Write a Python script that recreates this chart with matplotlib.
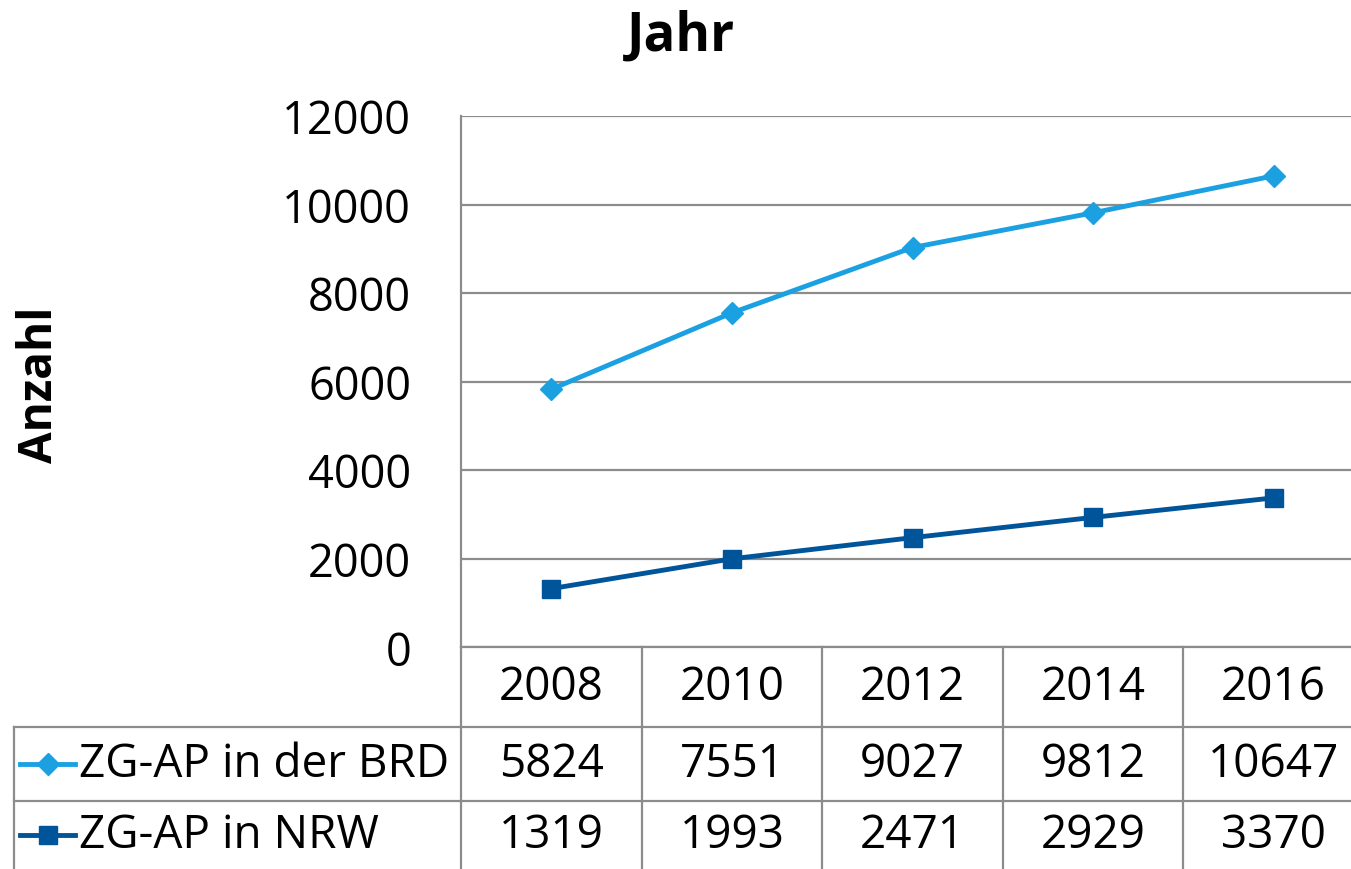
import matplotlib
import matplotlib.pyplot as plt
import matplotlib.transforms as mtransforms
from matplotlib.lines import Line2D

matplotlib.rcParams['font.family'] = ['Open Sans', 'DejaVu Sans']

# data
years = ['2008', '2010', '2012', '2014', '2016']
brd = [5824, 7551, 9027, 9812, 10647]
nrw = [1319, 1993, 2471, 2929, 3370]
series_names = ['ZG-AP in der BRD', 'ZG-AP in NRW']
yticks = [0, 2000, 4000, 6000, 8000, 10000, 12000]

c_brd = '#1ba1e2'
c_nrw = '#00559a'
c_grid = '#8c8c8c'

W, H = 1351, 870
fig = plt.figure(figsize=(W / 100, H / 100), dpi=100)


def fy(py):
    # pixel row (from top) -> figure fraction
    return 1 - py / H


# plot area in pixels: x 461..1364, y 117..648
ax = fig.add_axes([461 / W, fy(648), (1364 - 461) / W, (648 - 117) / H])
x = list(range(len(years)))
ax.plot(x, brd, color=c_brd, lw=3.5, marker='D', ms=11, zorder=3)
ax.plot(x, nrw, color=c_nrw, lw=3.5, marker='s', ms=13, zorder=3)
ax.set_xlim(-0.5, len(years) - 0.5)
ax.set_ylim(0, 12000)
ax.set_yticks(yticks)
ax.set_yticklabels([str(v) for v in yticks], fontsize=32.5)
ax.tick_params(axis='y', length=0, pad=36)
ax.set_xticks([])
ax.grid(axis='y', color=c_grid, lw=1.6)
ax.set_axisbelow(True)
for s in ['top', 'right', 'bottom']:
    ax.spines[s].set_visible(False)
ax.spines['left'].set_color(c_grid)
ax.spines['left'].set_linewidth(1.6)

fig.text(681 / W, fy(37), 'Jahr', fontsize=38, fontweight='bold',
         ha='center', va='center')
fig.text(39 / W, fy(385), 'Anzahl', fontsize=33, fontweight='bold',
         rotation=90, ha='center', va='center')

# data table below the plot
trans = mtransforms.blended_transform_factory(ax.transData, fig.transFigure)
row_top = [648, 728, 802]
row_bottom = 870
lkw = dict(color=c_grid, lw=1.6, clip_on=False)

# horizontal table lines
ax.add_line(Line2D([-0.5, len(years)], [fy(648), fy(648)], transform=trans, **lkw))
for py in row_top[1:]:
    fig.add_artist(Line2D([14 / W, 1], [fy(py), fy(py)], **lkw))
# vertical lines
fig.add_artist(Line2D([14 / W, 14 / W], [fy(728), fy(row_bottom)], **lkw))
ax.add_line(Line2D([-0.5, -0.5], [fy(648), fy(row_bottom)], transform=trans, **lkw))
for i in range(1, len(years)):
    ax.add_line(Line2D([i - 0.5, i - 0.5], [fy(648), fy(row_bottom)],
                       transform=trans, **lkw))

tfs = 33
row_mid = [688, 765, 836]
for i, yr in enumerate(years):
    ax.text(i, fy(row_mid[0]), yr, transform=trans, fontsize=tfs,
            ha='center', va='center', clip_on=False)
    ax.text(i, fy(row_mid[1]), str(brd[i]), transform=trans, fontsize=tfs,
            ha='center', va='center', clip_on=False)
    ax.text(i, fy(row_mid[2]), str(nrw[i]), transform=trans, fontsize=tfs,
            ha='center', va='center', clip_on=False)

# legend keys in the table rows
for name, col, mk, ms, py in [(series_names[0], c_brd, 'D', 11, row_mid[1]),
                              (series_names[1], c_nrw, 's', 13, row_mid[2])]:
    fig.add_artist(Line2D([20 / W, 75 / W], [fy(py), fy(py)], color=col, lw=3.5))
    fig.add_artist(Line2D([48 / W], [fy(py)], color=col, marker=mk, ms=ms, lw=0))
    fig.text(79 / W, fy(py), name, fontsize=tfs, ha='left', va='center')

fig.savefig('out.png', dpi=100)
